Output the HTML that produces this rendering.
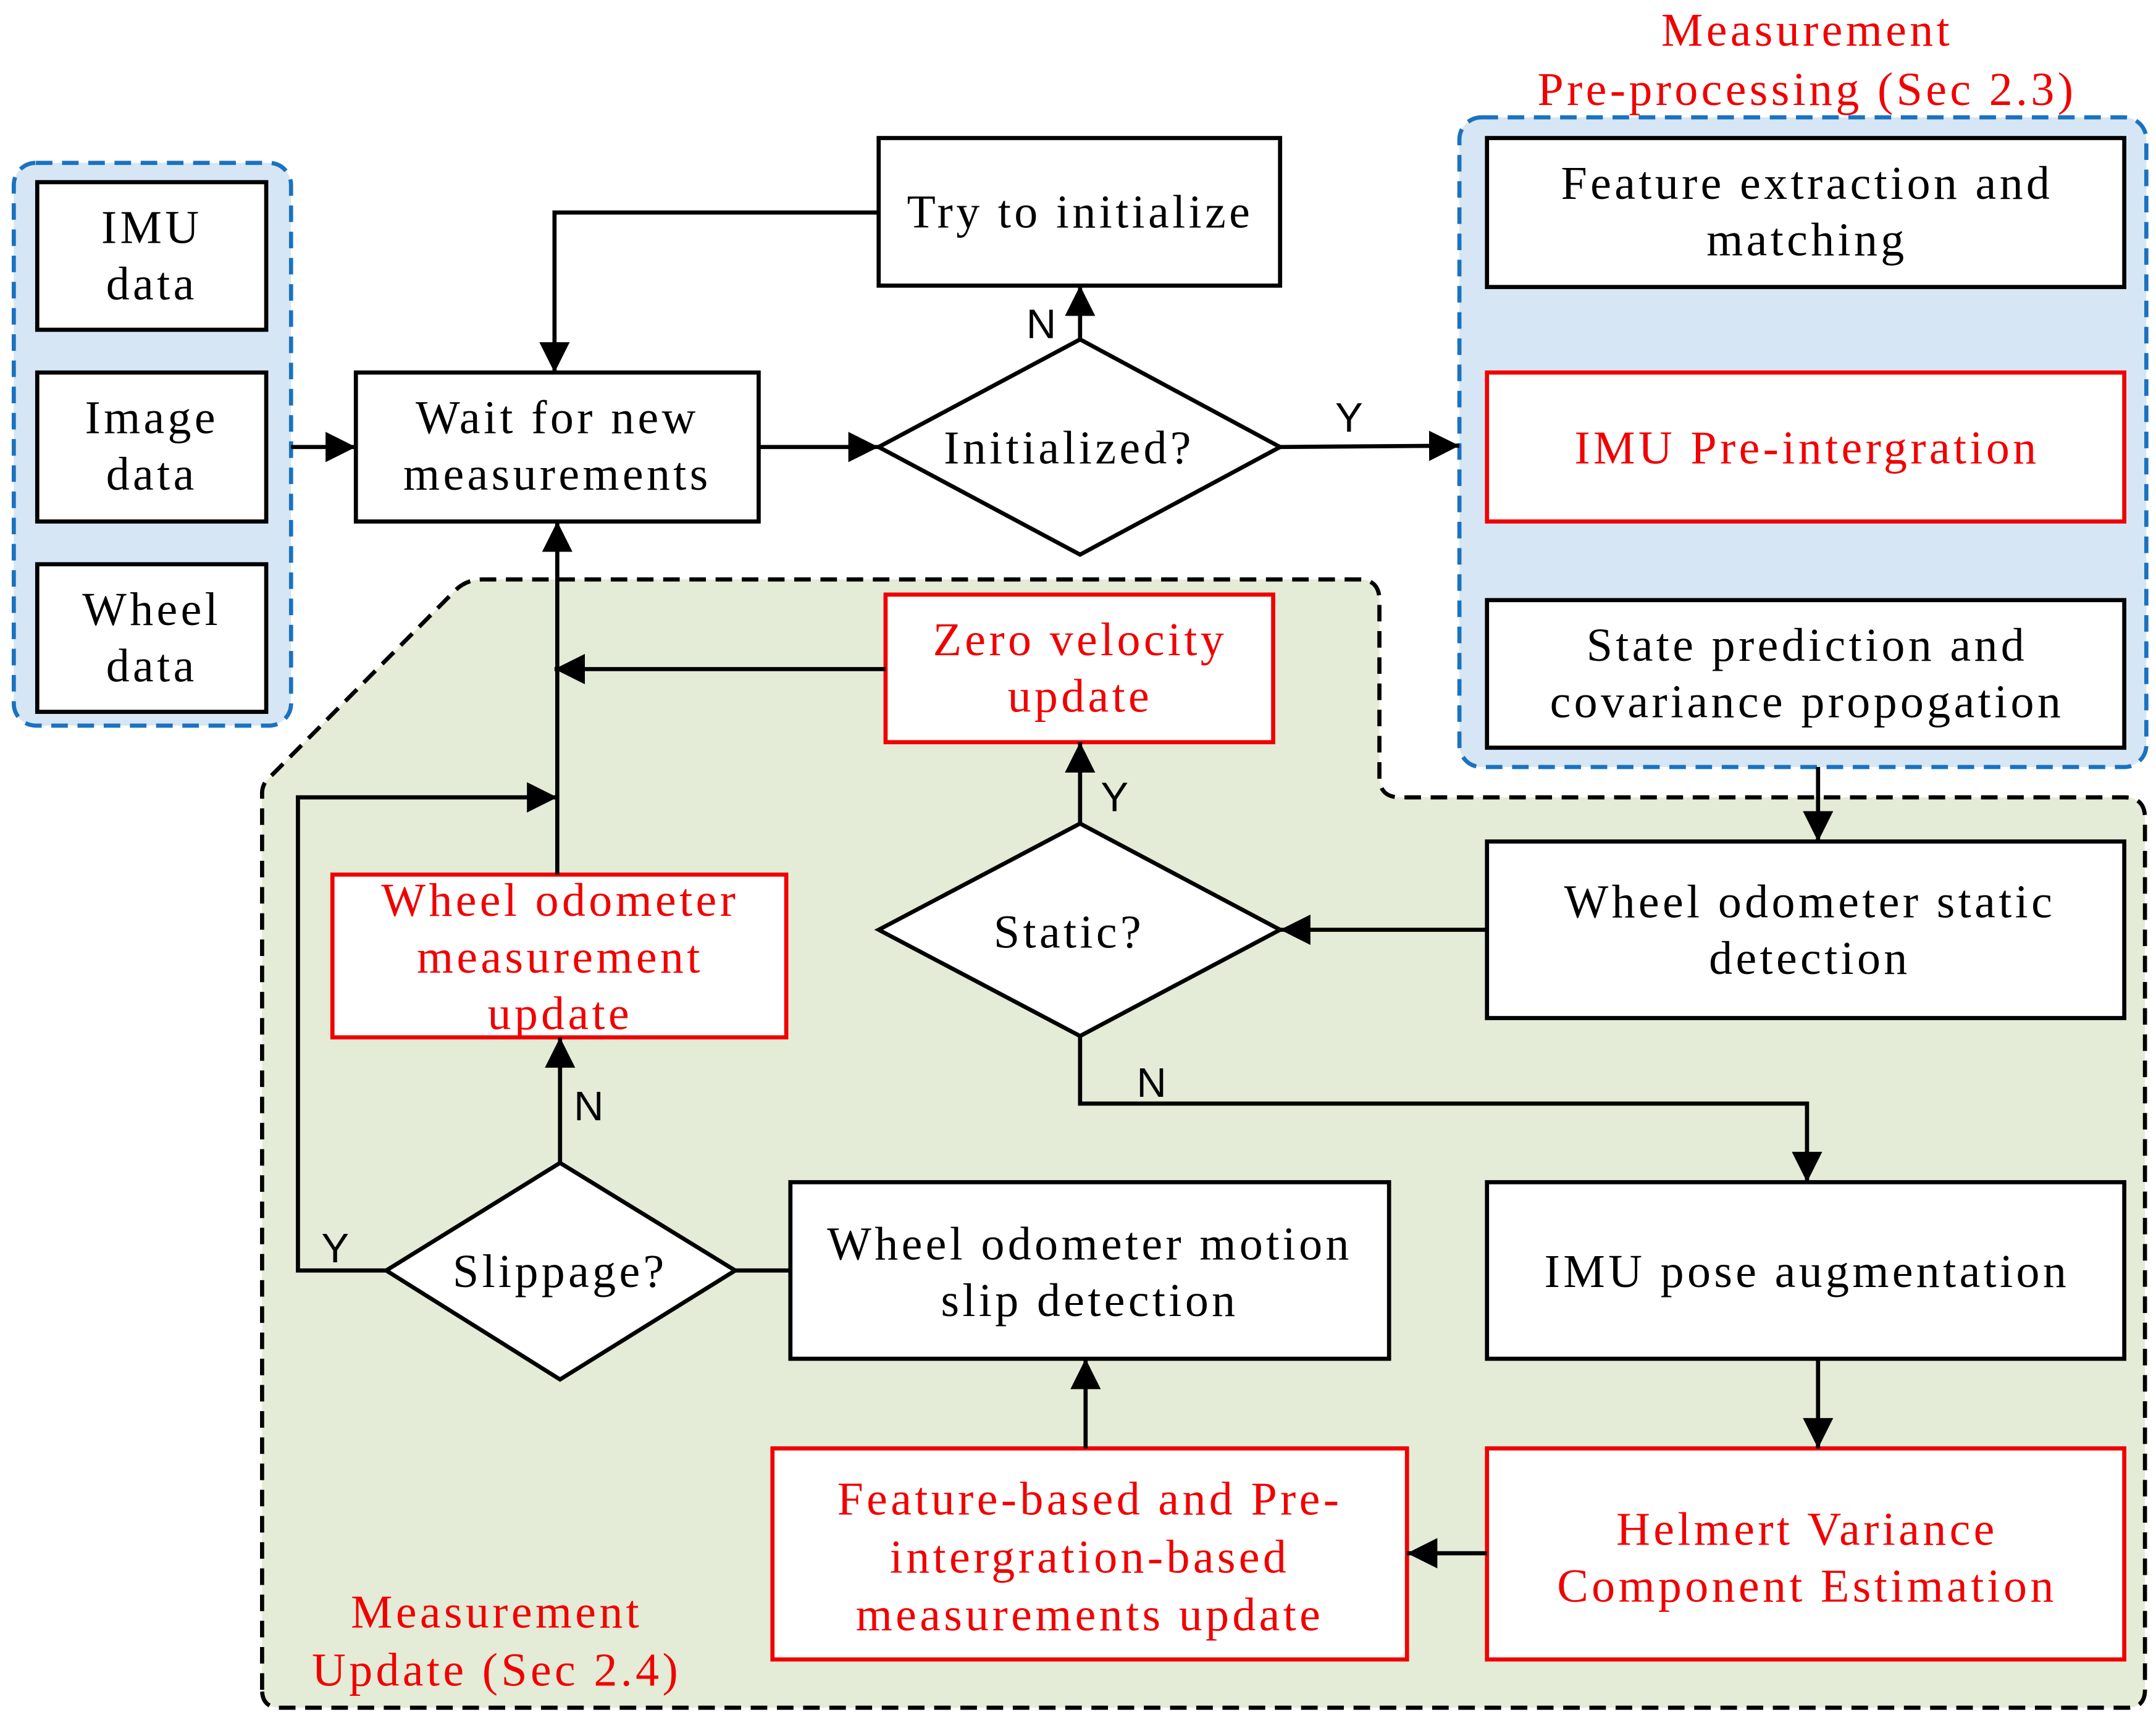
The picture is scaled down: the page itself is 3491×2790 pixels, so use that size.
<!DOCTYPE html>
<html><head><meta charset="utf-8"><style>
html,body{margin:0;padding:0;background:#fff}
svg{display:block}
text{font-family:"Liberation Serif",serif;font-size:34px;text-anchor:middle;letter-spacing:2.4px}
.r{fill:#f00000}
.yn{font-family:"Liberation Sans",sans-serif;font-size:30px;text-anchor:start;letter-spacing:0}
</style></head><body>
<svg width="3491" height="2790" viewBox="0 0 1563 1249" xmlns="http://www.w3.org/2000/svg">
<defs>
<marker id="a" markerWidth="24" markerHeight="24" refX="22" refY="12" orient="auto" markerUnits="userSpaceOnUse">
<path d="M0,1 L22,12 L0,23 Z" fill="#000"/></marker>
</defs>
<rect x="0" y="0" width="1563" height="1249" fill="#fff"/>
<path d="M190,1225 L190,575 Q190,570 193,566 L330,428 Q338,420 350,420 L985,420 Q1000,420 1000,435 L1000,563 Q1000,578 1015,578 L1540,578 Q1555,578 1555,593 L1555,1225 Q1555,1238 1542,1238 L203,1238 Q190,1238 190,1225 Z" fill="#e4ebd6" stroke="#000" stroke-width="3" stroke-dasharray="12,7"/>
<rect x="10" y="118" width="201" height="408" rx="16" fill="#d6e6f4" stroke="#1a72c0" stroke-width="3" stroke-dasharray="12,7"/>
<rect x="1058" y="85" width="498" height="471" rx="16" fill="#d6e6f4" stroke="#1a72c0" stroke-width="3" stroke-dasharray="12,7"/>
<g fill="#fff" stroke="#000" stroke-width="3">
<rect x="27" y="132" width="166" height="107"/>
<rect x="27" y="270" width="166" height="108"/>
<rect x="27" y="409" width="166" height="107"/>
<rect x="258" y="270" width="292" height="108"/>
<rect x="637" y="100" width="291" height="107"/>
<polygon points="637,324 783,246 928,324 783,402"/>
<rect x="1078" y="100" width="462" height="108"/>
<rect x="1078" y="270" width="462" height="108" stroke="#f00000"/>
<rect x="1078" y="435" width="462" height="107"/>
<rect x="1078" y="610" width="462" height="128"/>
<polygon points="637,674 783,597 928,674 783,751"/>
<rect x="642" y="431" width="281" height="107" stroke="#f00000"/>
<rect x="1078" y="857" width="462" height="128"/>
<rect x="1078" y="1050" width="462" height="153" stroke="#f00000"/>
<rect x="560" y="1050" width="460" height="153" stroke="#f00000"/>
<rect x="573" y="857" width="434" height="128"/>
<polygon points="280,921 406,843 533,921 406,1000"/>
<rect x="241" y="634" width="329" height="118" stroke="#f00000"/>
</g>
<g fill="none" stroke="#000" stroke-width="3">
<line x1="211" y1="324" x2="258" y2="324" marker-end="url(#a)"/>
<line x1="550" y1="324" x2="637" y2="324" marker-end="url(#a)"/>
<line x1="928" y1="324" x2="1058" y2="323" marker-end="url(#a)"/>
<line x1="783" y1="246" x2="783" y2="207" marker-end="url(#a)"/>
<polyline points="637,154 402,154 402,270" marker-end="url(#a)"/>
<line x1="1318" y1="556" x2="1318" y2="610" marker-end="url(#a)"/>
<line x1="1078" y1="674" x2="928" y2="674" marker-end="url(#a)"/>
<line x1="783" y1="597" x2="783" y2="538" marker-end="url(#a)"/>
<line x1="642" y1="485" x2="402" y2="485" marker-end="url(#a)"/>
<line x1="404" y1="634" x2="404" y2="378" marker-end="url(#a)"/>
<polyline points="783,751 783,800 1310,800 1310,857" marker-end="url(#a)"/>
<line x1="1318" y1="985" x2="1318" y2="1050" marker-end="url(#a)"/>
<line x1="1078" y1="1126" x2="1020" y2="1126" marker-end="url(#a)"/>
<line x1="787" y1="1050" x2="787" y2="985" marker-end="url(#a)"/>
<line x1="573" y1="921" x2="533" y2="921"/>
<line x1="406" y1="843" x2="406" y2="752" marker-end="url(#a)"/>
<polyline points="280,921 216,921 216,578 404,578" marker-end="url(#a)"/>
</g>
<text x="110" y="176">IMU</text><text x="110" y="217">data</text>
<text x="110" y="314">Image</text><text x="110" y="355">data</text>
<text x="110" y="453">Wheel</text><text x="110" y="494">data</text>
<text x="404" y="314">Wait for new</text><text x="404" y="355">measurements</text>
<text x="783" y="165">Try to initialize</text>
<text x="775" y="336">Initialized?</text>
<text class="r" x="1310" y="33">Measurement</text>
<text class="r" x="1310" y="76">Pre-processing (Sec 2.3)</text>
<text x="1310" y="144">Feature extraction and</text><text x="1310" y="185">matching</text>
<text class="r" x="1310" y="336">IMU Pre-intergration</text>
<text x="1310" y="479">State prediction and</text><text x="1310" y="520">covariance propogation</text>
<text x="1312" y="665">Wheel odometer static</text><text x="1312" y="706">detection</text>
<text x="775" y="687">Static?</text>
<text class="r" x="783" y="475">Zero velocity</text><text class="r" x="783" y="516">update</text>
<text x="1310" y="933">IMU pose augmentation</text>
<text class="r" x="1310" y="1120">Helmert Variance</text><text class="r" x="1310" y="1161">Component Estimation</text>
<text class="r" x="790" y="1098">Feature-based and Pre-</text><text class="r" x="790" y="1140">intergration-based</text><text class="r" x="790" y="1182">measurements update</text>
<text x="790" y="913">Wheel odometer motion</text><text x="790" y="954">slip detection</text>
<text x="406" y="933">Slippage?</text>
<text class="r" x="406" y="664">Wheel odometer</text><text class="r" x="406" y="705">measurement</text><text class="r" x="406" y="746">update</text>
<text class="r" x="360" y="1180">Measurement</text><text class="r" x="360" y="1222">Update (Sec 2.4)</text>
<text class="yn" x="744" y="245">N</text>
<text class="yn" x="968" y="313">Y</text>
<text class="yn" x="798" y="588">Y</text>
<text class="yn" x="824" y="795">N</text>
<text class="yn" x="416" y="812">N</text>
<text class="yn" x="233" y="915">Y</text>
</svg>
</body></html>
